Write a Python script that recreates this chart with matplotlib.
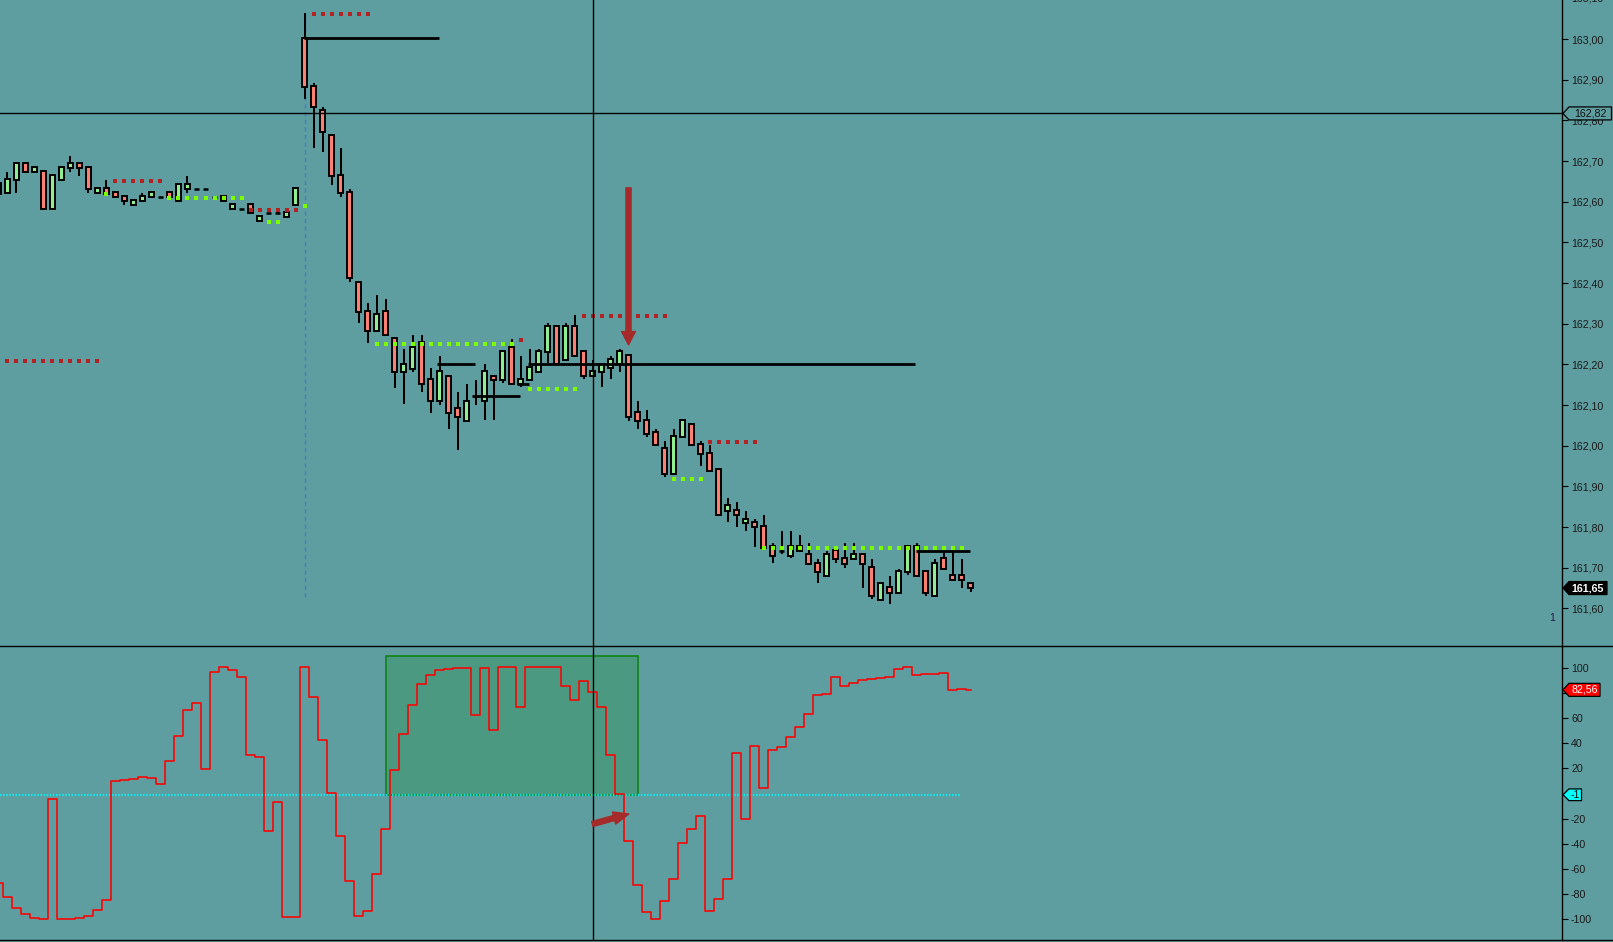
import numpy as np
import matplotlib
matplotlib.use("Agg")
import matplotlib.pyplot as plt
from matplotlib.lines import Line2D
from matplotlib.patches import Polygon, Rectangle
from matplotlib.transforms import IdentityTransform

plt.rcParams['font.family'] = ['Liberation Sans', 'DejaVu Sans']

# ---- price bars (index -1 is the half visible bar at the left edge)
bars = list(range(-1, 108))
opens = [162.620, 162.621, 162.653, 162.694, 162.672, 162.675, 162.581, 162.653, 162.682, 162.694,
         162.685, 162.621, 162.634, 162.624, 162.614, 162.591, 162.601, 162.611, 162.612, 162.624,
         162.601, 162.630, 162.632, 162.632, 162.612, 162.601, 162.581, 162.583, 162.594, 162.552,
         162.573, 162.573, 162.562, 162.591, 163.002, 162.884, 162.825, 162.763, 162.665, 162.623,
         162.403, 162.332, 162.281, 162.332, 162.264, 162.180, 162.189, 162.254, 162.163, 162.109,
         162.172, 162.092, 162.060, 162.122, 162.109, 162.172, 162.161, 162.242, 162.152, 162.161,
         162.180, 162.230, 162.294, 162.211, 162.294, 162.232, 162.171, 162.180, 162.191, 162.201,
         162.222, 162.082, 162.062, 162.033, 161.994, 161.930, 162.021, 162.053, 162.003, 161.981,
         161.942, 161.839, 161.841, 161.809, 161.812, 161.802, 161.753, 161.742, 161.730, 161.740,
         161.733, 161.711, 161.679, 161.743, 161.723, 161.721, 161.733, 161.701, 161.620, 161.652,
         161.639, 161.689, 161.753, 161.691, 161.630, 161.723, 161.681, 161.681, 161.662]
highs = [162.650, 162.673, 162.694, 162.694, 162.685, 162.675, 162.665, 162.685, 162.712, 162.694,
         162.685, 162.634, 162.653, 162.624, 162.614, 162.604, 162.621, 162.624, 162.612, 162.624,
         162.643, 162.663, 162.632, 162.632, 162.612, 162.614, 162.594, 162.583, 162.594, 162.565,
         162.573, 162.581, 162.575, 162.634, 163.063, 162.891, 162.832, 162.763, 162.731, 162.630,
         162.403, 162.350, 162.371, 162.360, 162.264, 162.239, 162.271, 162.271, 162.190, 162.220,
         162.172, 162.131, 162.151, 162.161, 162.200, 162.172, 162.233, 162.262, 162.221, 162.239,
         162.239, 162.301, 162.294, 162.301, 162.321, 162.232, 162.210, 162.200, 162.221, 162.239,
         162.222, 162.109, 162.089, 162.040, 162.011, 162.040, 162.062, 162.053, 162.011, 162.001,
         161.942, 161.871, 161.861, 161.839, 161.820, 161.830, 161.761, 161.790, 161.790, 161.780,
         161.761, 161.721, 161.741, 161.743, 161.761, 161.761, 161.733, 161.721, 161.662, 161.680,
         161.698, 161.753, 161.761, 161.691, 161.721, 161.741, 161.741, 161.721, 161.662]
lows = [162.615, 162.621, 162.622, 162.672, 162.672, 162.581, 162.581, 162.653, 162.674, 162.664,
        162.622, 162.621, 162.619, 162.611, 162.593, 162.591, 162.601, 162.611, 162.612, 162.611,
        162.601, 162.622, 162.632, 162.632, 162.612, 162.601, 162.581, 162.583, 162.571, 162.552,
        162.573, 162.573, 162.562, 162.591, 162.853, 162.733, 162.723, 162.641, 162.612, 162.403,
        162.302, 162.253, 162.281, 162.271, 162.143, 162.102, 162.182, 162.133, 162.081, 162.101,
        162.042, 161.989, 162.060, 162.101, 162.062, 162.062, 162.153, 162.151, 162.144, 162.161,
        162.180, 162.203, 162.201, 162.211, 162.221, 162.163, 162.171, 162.144, 162.163, 162.182,
        162.061, 162.042, 162.022, 162.001, 161.922, 161.930, 162.021, 162.001, 161.951, 161.939,
        161.829, 161.812, 161.801, 161.790, 161.752, 161.749, 161.711, 161.733, 161.723, 161.740,
        161.708, 161.662, 161.679, 161.711, 161.700, 161.721, 161.651, 161.622, 161.620, 161.612,
        161.639, 161.681, 161.679, 161.630, 161.630, 161.698, 161.669, 161.651, 161.641]
closes = [162.645, 162.655, 162.694, 162.672, 162.685, 162.581, 162.665, 162.685, 162.694, 162.682,
          162.630, 162.634, 162.619, 162.611, 162.601, 162.604, 162.614, 162.624, 162.612, 162.611,
          162.643, 162.643, 162.632, 162.632, 162.612, 162.614, 162.594, 162.583, 162.571, 162.565,
          162.573, 162.573, 162.575, 162.634, 162.881, 162.832, 162.771, 162.662, 162.621, 162.412,
          162.329, 162.281, 162.323, 162.271, 162.180, 162.202, 162.242, 162.151, 162.109, 162.183,
          162.080, 162.070, 162.111, 162.122, 162.183, 162.161, 162.233, 162.151, 162.163, 162.193,
          162.233, 162.294, 162.201, 162.294, 162.221, 162.171, 162.183, 162.200, 162.212, 162.232,
          162.070, 162.060, 162.030, 162.001, 161.930, 162.023, 162.062, 162.001, 161.979, 161.939,
          161.829, 161.854, 161.829, 161.821, 161.799, 161.749, 161.730, 161.742, 161.753, 161.753,
          161.708, 161.689, 161.733, 161.721, 161.708, 161.733, 161.708, 161.630, 161.662, 161.639,
          161.691, 161.753, 161.679, 161.639, 161.711, 161.698, 161.669, 161.669, 161.649]

# ---- oscillator (one value per bar, same bars as above)
osc = [-71.6, -82.7, -91.5, -96.3, -99.4, -100.2, -4.6, -100.0, -100.0, -99.5,
       -97.9, -93.0, -85.0, 9.7, 10.5, 11.3, 12.9, 12.1, 7.3, 25.7,
       45.6, 66.3, 71.9, 19.3, 96.6, 100.5, 98.2, 92.6, 30.4, 28.8,
       -30.1, -7.0, -98.4, -98.4, 100.5, 76.7, 42.4, 0.2, -34.1, -70.0,
       -97.9, -93.9, -64.4, -28.5, 18.5, 47.2, 70.3, 87.0, 94.2, 98.2,
       99.0, 99.8, 99.8, 62.3, 99.8, 50.4, 100.6, 100.6, 68.7, 100.6,
       100.6, 100.6, 100.6, 85.4, 74.3, 89.4, 80.6, 68.7, 30.4, -0.6,
       -38.1, -73.1, -94.7, -100.2, -85.9, -68.4, -39.7, -28.5, -18.2, -93.9,
       -84.3, -68.4, 32.0, -20.6, 37.6, 4.1, 34.4, 36.8, 44.8, 52.7,
       63.1, 78.2, 79.0, 92.6, 85.4, 87.8, 90.2, 91.0, 91.8, 92.6,
       99.0, 100.6, 94.2, 95.0, 95.0, 95.8, 82.2, 83.0, 82.56]

# ---- level lines: (price, first bar, last bar)
black_levels = [(163.002, 32.9, 47.9), (162.200, 47.7, 51.9), (162.200, 57.8, 100.8),
                (162.122, 51.6, 56.9), (162.151, 56.6, 57.9), (161.740, 100.9, 106.9)]
red_dots = [(163.061, 34, 40), (162.650, 12, 17), (162.579, 27, 32), (162.208, 0, 10),
            (162.318, 64, 73), (162.259, 57, 57), (162.008, 78, 83)]
green_dots = [(162.618, 11, 11), (162.608, 18, 26), (162.549, 29, 30), (162.589, 33, 33),
              (162.249, 41, 56), (162.139, 58, 63), (161.917, 74, 77), (161.748, 84, 106)]

price_ticks = [161.6, 161.7, 161.8, 161.9, 162.0, 162.1, 162.2, 162.3, 162.4, 162.5,
               162.6, 162.7, 162.8, 162.9, 163.0]
osc_ticks = [-100, -80, -60, -40, -20, 0, 20, 40, 60, 80, 100]

cross_bar = 65.11
cross_price = 162.817
last_price = 161.65
last_osc = 82.56
zero_level = -1
box_bars = (42, 70)
box_vals = (-1, 109.3)

BG = '#5f9ea0'
W, H = 1613, 942
fig = plt.figure(figsize=(W / 100, H / 100), dpi=100, facecolor=BG)
ax = fig.add_axes([0, 296 / H, 1562 / W, 646 / H], facecolor=BG)
ax2 = fig.add_axes([0, 2 / H, 1562 / W, 294 / H], facecolor=BG)

for a in (ax, ax2):
    a.set_xlim(-0.833, 172.72)
    for s in ('top', 'left', 'bottom'):
        a.spines[s].set_visible(False)
    a.spines['right'].set_linewidth(1.0)
    a.set_xticks([])
    a.yaxis.tick_right()
    a.tick_params(axis='y', direction='out', length=4.3, width=0.8, pad=2.2,
                  labelsize=7.7, labelcolor='#1a1a1a', color='black')

ax.set_ylim(161.5075, 163.0959)
ax.set_yticks(price_ticks)
ax.set_yticklabels([f"{v:.2f}".replace('.', ',') for v in price_ticks])
ax2.set_ylim(-116.7, 117.5)
ax2.set_yticks(osc_ticks)
ax2.set_yticklabels([str(v) for v in osc_ticks])

# candles
for x, o, h, l, c in zip(bars, opens, highs, lows, closes):
    ax.vlines(x, l, h, color='black', lw=1.45, zorder=2)
    if abs(c - o) < 1e-9:
        ax.hlines(o, x - 0.3, x + 0.3, color='black', lw=1.8, zorder=3)
    else:
        fc = '#90ee90' if c > o else '#fa8072'
        ax.bar(x, c - o, bottom=o, width=0.48, color=fc, edgecolor='black',
               linewidth=1.4, zorder=3)

for p, a0, a1 in black_levels:
    ax.hlines(p, a0, a1, color='black', lw=2.0, zorder=4)
for p, a0, a1 in red_dots:
    xs = np.arange(a0, a1 + 1)
    ax.plot(xs, [p] * len(xs), ls='none', marker='s', ms=2.3, mew=0,
            color='#b22222', zorder=4)
for p, a0, a1 in green_dots:
    xs = np.arange(a0, a1 + 1)
    ax.plot(xs, [p] * len(xs), ls='none', marker='s', ms=2.3, mew=0,
            color='#7cfc00', zorder=4)

ax.vlines(33, 161.628, 163.064, color='#3a7fd0', lw=1.0, linestyles=(0, (3, 2.5)), zorder=1.5)

# crosshair
ax.axhline(cross_price, color='black', lw=1.0, zorder=5)
ax.axvline(cross_bar, color='black', lw=1.0, zorder=5)
ax2.axvline(cross_bar, color='black', lw=1.0, zorder=5)

# red arrow in price panel
ax.annotate('', xy=(69, 162.248), xytext=(69, 162.634),
            arrowprops=dict(arrowstyle='simple,head_length=9.6,head_width=10,tail_width=3.7',
                            mutation_scale=1, color='#a52a2a', shrinkA=0, shrinkB=0),
            zorder=6)

# oscillator panel
ax2.add_patch(Rectangle((box_bars[0], box_vals[0]), box_bars[1] - box_bars[0],
                        box_vals[1] - box_vals[0], facecolor='#4b9981',
                        edgecolor='#16851f', lw=1.3, zorder=1))
ax2.hlines(zero_level, -0.833, 105.83, color='#10e6ee', lw=1.6,
           linestyles=(0, (0.7, 0.7)), zorder=2)
ax2.plot(bars, osc, drawstyle='steps-mid', color='#ff0000', lw=1.15, zorder=3)
ax2.annotate('', xy=(69.03, -16.3), xytext=(64.98, -24.3),
             arrowprops=dict(arrowstyle='simple,head_length=11,head_width=9,tail_width=3.7',
                             mutation_scale=1, color='#a52a2a', shrinkA=0, shrinkB=0),
             zorder=6)

# panel separators
for yf in (296 / H, 2 / H):
    fig.add_artist(Line2D([0, 1], [yf, yf], transform=fig.transFigure, color='black', lw=1.0))


def tag(axis, value, text, fc, tc, w, h=13.0, weight='normal'):
    _, yd = axis.transData.transform((0, value))
    tip = 1563.0
    xs = [tip, tip + 6, tip + 6 + w, tip + 6 + w, tip + 6]
    ys = [yd, yd + h / 2, yd + h / 2, yd - h / 2, yd - h / 2]
    fig.add_artist(Polygon(np.column_stack([xs, ys]), closed=True, transform=IdentityTransform(),
                           facecolor=fc, edgecolor='black', lw=0.9, zorder=10))
    fig.text((tip + 6 + w / 2) / W, yd / H, text, ha='center', va='center', color=tc,
             fontsize=7.7, fontweight=weight, zorder=11)


tag(ax, cross_price, f"{cross_price:.2f}".replace('.', ','), BG, '#111111', 42.5)
tag(ax, last_price, f"{last_price:.2f}".replace('.', ','), 'black', 'white', 38, weight='bold')
tag(ax2, last_osc, f"{last_osc:.2f}".replace('.', ','), '#ff0000', 'white', 31)
tag(ax2, zero_level, str(zero_level), '#00ffff', '#111111', 12.5, h=11.7)

fig.text(1571 / W, (H + 1.7) / H, '163,10', ha='left', va='center', fontsize=7.7, color='#1a1a1a')
fig.text(1551.7 / W, (H - 617.7) / H, '1', ha='center', va='center', fontsize=7.5, color='#2e1050')

fig.savefig('out.png', dpi=100, facecolor=BG)
